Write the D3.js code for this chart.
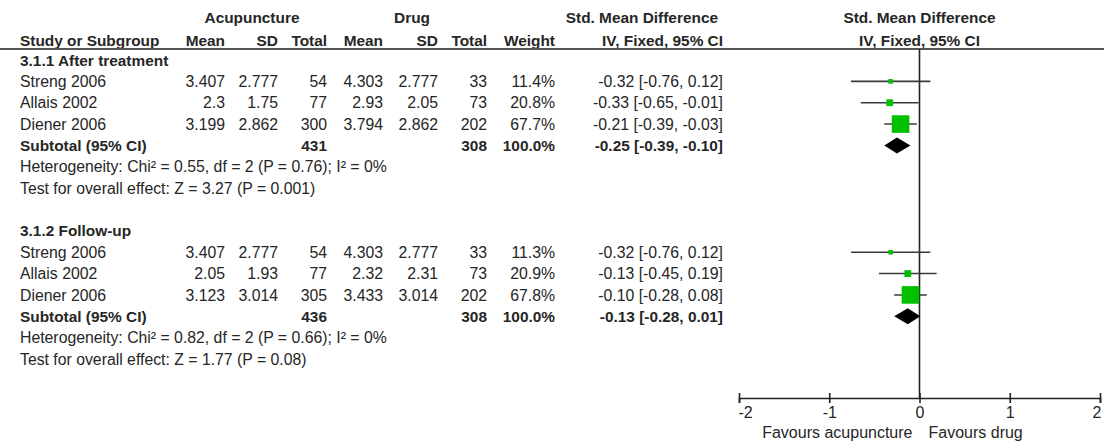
<!DOCTYPE html>
<html>
<head>
<meta charset="utf-8">
<script src="https://cdn.jsdelivr.net/npm/d3@7"></script>
<style>
  html, body { margin: 0; padding: 0; background: #fff; }
  svg { display: block; }
  text { font-family: 'Liberation Sans', Arial, Helvetica, sans-serif; fill: #262626; }
</style>
</head>
<body>
<script>
// ---- study-level data (both subgroups, in display order) ----
const studyNames  = ["Streng 2006", "Allais 2002", "Diener 2006", "Streng 2006", "Allais 2002", "Diener 2006"];
const studyGroup  = [0, 0, 0, 1, 1, 1];
const acuMean     = [3.407, 2.3, 3.199, 3.407, 2.05, 3.123];
const acuSD       = [2.777, 1.75, 2.862, 2.777, 1.93, 3.014];
const acuTotal    = [54, 77, 300, 54, 77, 305];
const drugMean    = [4.303, 2.93, 3.794, 4.303, 2.32, 3.433];
const drugSD      = [2.777, 2.05, 2.862, 2.777, 2.31, 3.014];
const drugTotal   = [33, 73, 202, 33, 73, 202];
const weight      = [11.4, 20.8, 67.7, 11.3, 20.9, 67.8];
const smd         = [-0.32, -0.33, -0.21, -0.32, -0.13, -0.10];
const smdLow      = [-0.76, -0.65, -0.39, -0.76, -0.45, -0.28];
const smdHigh     = [0.12, -0.01, -0.03, 0.12, 0.19, 0.08];

// ---- subgroup summaries ----
const groupTitles     = ["3.1.1 After treatment", "3.1.2 Follow-up"];
const subAcuTotal     = [431, 436];
const subDrugTotal    = [308, 308];
const subWeight       = [100.0, 100.0];
const subSmd          = [-0.25, -0.13];
const subLow          = [-0.39, -0.28];
const subHigh         = [-0.10, 0.01];
const heterogeneity   = ["Heterogeneity: Chi\u00b2 = 0.55, df = 2 (P = 0.76); I\u00b2 = 0%",
                         "Heterogeneity: Chi\u00b2 = 0.82, df = 2 (P = 0.66); I\u00b2 = 0%"];
const overallEffect   = ["Test for overall effect: Z = 3.27 (P = 0.001)",
                         "Test for overall effect: Z = 1.77 (P = 0.08)"];

// ---- axis ----
const axisTicks   = [-2, -1, 0, 1, 2];
const favourLeft  = "Favours acupuncture";
const favourRight = "Favours drug";

// ---- layout ----
const W = 1106, H = 443;
const FS = 15.8;      // regular text
const FSB = 15.4;     // bold text
const leftX = 20;
const colRight = { acuMean: 225, acuSD: 278, acuTotal: 327, drugMean: 383, drugSD: 438, drugTotal: 487, weight: 555, ci: 723 };

const svg = d3.select("body").append("svg").attr("width", W).attr("height", H);
svg.append("rect").attr("width", W).attr("height", H).attr("fill", "#fff");

// rows: 0 group title, 1-3 studies, 4 subtotal, 5 heterogeneity, 6 overall test, 7 blank ...
const rowY = d3.scaleLinear().domain([0, 14]).range([60, 359]);
const x = d3.scaleLinear().domain([-2, 2]).range([739, 1100]);
const boxSide = d3.scaleLinear().domain([0, 100]).range([2, 25]);

const f2 = d3.format(".2f");
const fmt2 = v => f2(v).replace("\u2212", "-");
const ciText = (m, l, h) => `${fmt2(m)} [${fmt2(l)}, ${fmt2(h)}]`;
const pct = v => d3.format(".1f")(v) + "%";

function txt(xp, yp, s, anchor, bold, size) {
  return svg.append("text")
    .attr("x", xp).attr("y", yp).attr("dy", "0.36em")
    .attr("text-anchor", anchor || "start")
    .attr("font-size", (size || (bold ? FSB : FS)) + "px")
    .attr("font-weight", bold ? "bold" : "normal")
    .text(s);
}

// ---- header ----
txt(252, 17, "Acupuncture", "middle", true);
txt(412, 17, "Drug", "middle", true);
txt(718, 17, "Std. Mean Difference", "end", true);
txt(x(0), 17, "Std. Mean Difference", "middle", true);

const hdrY = 40;
txt(leftX, hdrY, "Study or Subgroup", "start", true);
txt(colRight.acuMean, hdrY, "Mean", "end", true);
txt(colRight.acuSD, hdrY, "SD", "end", true);
txt(colRight.acuTotal, hdrY, "Total", "end", true);
txt(colRight.drugMean, hdrY, "Mean", "end", true);
txt(colRight.drugSD, hdrY, "SD", "end", true);
txt(colRight.drugTotal, hdrY, "Total", "end", true);
txt(colRight.weight, hdrY, "Weight", "end", true);
txt(colRight.ci, hdrY, "IV, Fixed, 95% CI", "end", true);
txt(x(0), hdrY, "IV, Fixed, 95% CI", "middle", true);

svg.append("line").attr("x1", 0).attr("x2", W - 2).attr("y1", 49).attr("y2", 49)
  .attr("stroke", "#555").attr("stroke-width", 2);

// zero line
svg.append("line").attr("x1", x(0)).attr("x2", x(0)).attr("y1", 49).attr("y2", 398)
  .attr("stroke", "#222").attr("stroke-width", 1.6);

// ---- subgroups ----
groupTitles.forEach((title, g) => {
  const base = g * 8;
  txt(leftX, rowY(base), title, "start", true);

  studyNames.forEach((name, i) => {
    if (studyGroup[i] !== g) return;
    const k = i - g * 3;
    const y = rowY(base + 1 + k);
    txt(leftX, y, name);
    txt(colRight.acuMean, y, String(acuMean[i]), "end");
    txt(colRight.acuSD, y, String(acuSD[i]), "end");
    txt(colRight.acuTotal, y, String(acuTotal[i]), "end");
    txt(colRight.drugMean, y, String(drugMean[i]), "end");
    txt(colRight.drugSD, y, String(drugSD[i]), "end");
    txt(colRight.drugTotal, y, String(drugTotal[i]), "end");
    txt(colRight.weight, y, pct(weight[i]), "end");
    txt(colRight.ci, y, ciText(smd[i], smdLow[i], smdHigh[i]), "end");

    // confidence interval and weighted box
    svg.append("line")
      .attr("x1", x(smdLow[i])).attr("x2", x(smdHigh[i]))
      .attr("y1", y).attr("y2", y)
      .attr("stroke", "#3a3a3a").attr("stroke-width", 1.6);
    const s = boxSide(weight[i]);
    svg.append("rect")
      .attr("x", x(smd[i]) - s / 2).attr("y", y - s / 2)
      .attr("width", s).attr("height", s)
      .attr("fill", "#00c000");
  });

  const ys = rowY(base + 4);
  txt(leftX, ys, "Subtotal (95% CI)", "start", true);
  txt(colRight.acuTotal, ys, String(subAcuTotal[g]), "end", true);
  txt(colRight.drugTotal, ys, String(subDrugTotal[g]), "end", true);
  txt(colRight.weight, ys, pct(subWeight[g]), "end", true);
  txt(colRight.ci, ys, ciText(subSmd[g], subLow[g], subHigh[g]), "end", true);

  const dh = 8;
  svg.append("path")
    .attr("d", `M${x(subLow[g])},${ys} L${x(subSmd[g])},${ys - dh} L${x(subHigh[g])},${ys} L${x(subSmd[g])},${ys + dh} Z`)
    .attr("fill", "#000");

  txt(leftX, rowY(base + 5), heterogeneity[g]);
  txt(leftX, rowY(base + 6), overallEffect[g]);
});

// ---- axis ----
const axisY = 398;
const axisG = svg.append("g").attr("transform", `translate(0,${axisY})`)
  .call(d3.axisBottom(x).tickValues(axisTicks).tickSizeOuter(0).tickSize(5).tickPadding(4)
    .tickFormat(d => String(d)));
axisG.select(".domain").attr("stroke", "#222").attr("stroke-width", 1.6);
axisG.selectAll(".tick line").attr("y1", -5).attr("y2", 5).attr("stroke", "#222").attr("stroke-width", 1.6);
axisG.selectAll(".tick text")
  .attr("font-size", "16px").attr("font-family", "'Liberation Sans', Arial, sans-serif")
  .attr("fill", "#262626")
  .attr("text-anchor", (d, i, n) => i === 0 ? "start" : (i === n.length - 1 ? "end" : "middle"))
  .attr("dx", (d, i, n) => i === 0 ? "-1" : (i === n.length - 1 ? "1" : "0"));

txt(x(0) - 7, 432, favourLeft, "end", false, 16);
txt(x(0) + 9, 432, favourRight, "start", false, 16);
</script>
</body>
</html>
